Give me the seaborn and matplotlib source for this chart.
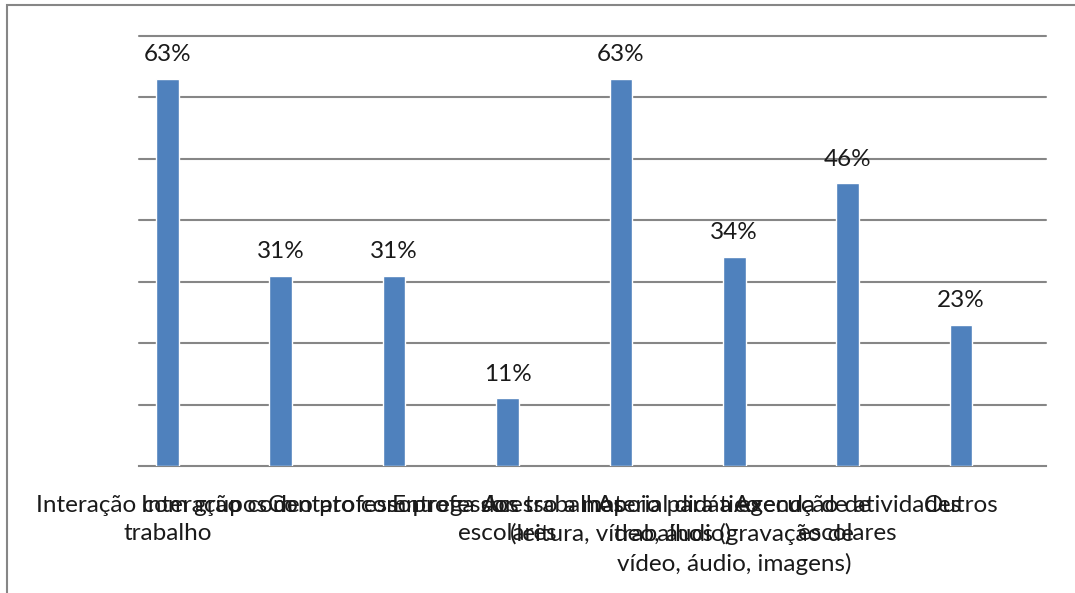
import numpy as np
import pandas as pd
import matplotlib
matplotlib.use("Agg")
import matplotlib.pyplot as plt
from matplotlib.patches import Rectangle
import seaborn as sns

categorias = [
    "Interação com grupos de\ntrabalho",
    "Interação com o professor",
    "Contato com professor.",
    "Entrega dos trabalhos\nescolares",
    "Acesso a material didático\n(leitura, vídeo, áudio)",
    "Apoio para a execução de\ntrabalhos (gravação de\nvídeo, áudio, imagens)",
    "Agenda de atividades\nescolares",
    "Outros",
]
percentuais = [63, 31, 31, 11, 63, 34, 46, 23]

sns.set_theme(style="white")
plt.rcParams["font.family"] = ["Lato", "DejaVu Sans"]

fig = plt.figure(figsize=(10.75, 5.93), dpi=100)
ax = fig.add_axes([139 / 1075, 1 - 466 / 593, (1046 - 139) / 1075, (466 - 36) / 593])

df = pd.DataFrame({"cat": categorias, "pct": percentuais})
sns.barplot(data=df, x="cat", y="pct", color="#4F81BD", saturation=1,
            width=0.2, ax=ax, zorder=3)

ax.set_xlim(-0.25, 7.75)
ax.set_ylim(0, 70)
ax.set_xlabel("")
ax.set_ylabel("")

# horizontal gridlines every 10%
ax.set_yticks(np.arange(10, 71, 10))
ax.set_yticklabels([])
ax.tick_params(axis="y", length=0)
ax.yaxis.grid(True, color="#868686", linewidth=1.5)
for gl in ax.get_ygridlines():
    gl.set_clip_on(False)
ax.set_axisbelow(True)

for side in ("left", "right", "top"):
    ax.spines[side].set_visible(False)
ax.spines["bottom"].set_color("#868686")
ax.spines["bottom"].set_linewidth(1.5)

# category labels under the bars, tick marks between half-slots
ax.set_xticks(range(len(categorias)))
ax.set_xticklabels(categorias, fontsize=17.5, color="#1a1a1a", linespacing=1.4)
ax.tick_params(axis="x", which="major", length=0, pad=21)
ax.set_xticks(np.arange(-0.25, 7.76, 0.5), minor=True)
ax.tick_params(axis="x", which="minor", length=6, width=1.5, color="#868686", direction="out")

for i, v in enumerate(percentuais):
    ax.annotate(f"{v}%", (i, v), xytext=(0, 10), textcoords="offset points",
                ha="center", va="bottom", fontsize=17.5, color="#1a1a1a")

fig.patches.append(Rectangle((7 / 1075, -0.1), 1.2, 1 - 5 / 593 + 0.1,
                             transform=fig.transFigure, fill=False,
                             edgecolor="#868686", linewidth=1.5))

fig.savefig("out.png", dpi=100, facecolor="white")
